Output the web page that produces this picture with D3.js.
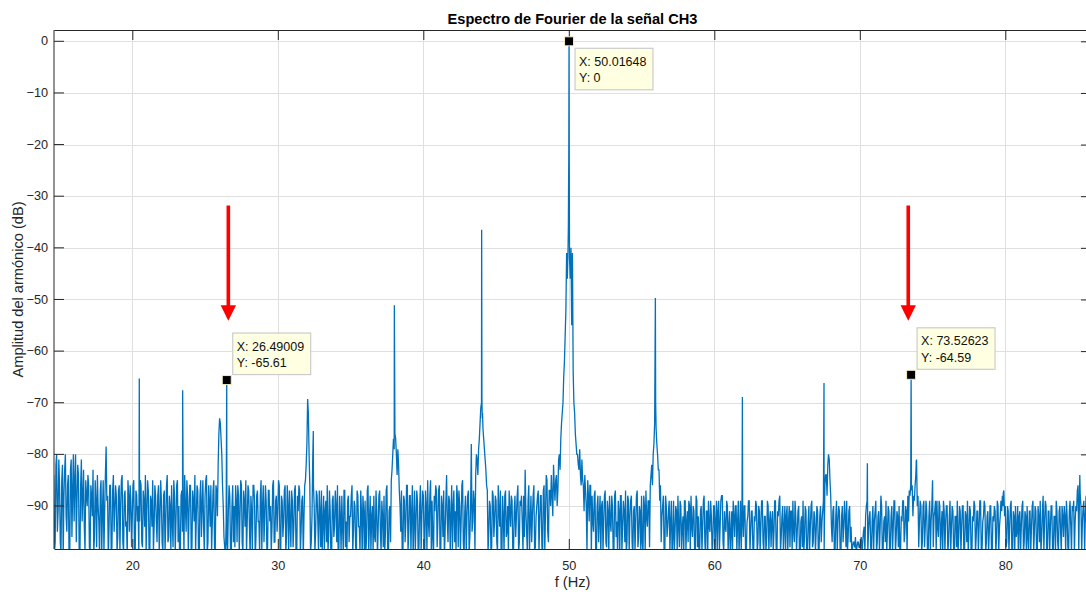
<!DOCTYPE html>
<html>
<head>
<meta charset="utf-8">
<script src="https://cdn.jsdelivr.net/npm/d3@7"></script>
<style>
  html, body { margin: 0; padding: 0; background: #fff; }
  svg { display: block; font-family: "Liberation Sans", Arial, Helvetica, sans-serif; }
</style>
</head>
<body>
<svg id="chart" width="1086" height="592"></svg>
<script>
// ---- Spectrum data (dB relative to the fundamental) ----
// Noise floor: each band holds the bins on the 0.1 Hz grid from its start frequency,
// its "Mid" partner holds the bins half a step (0.05 Hz) later.
const floorStep = 0.1;
const bandStart = [14.6, 30.0, 50.0, 70.0];

const floorBandA = [ // 14.6 – 29.9 Hz
  -84, -97, -80, -91,
  -86, -99, -82, -88, -80, -95, -84, -100, -81, -87,
  -93, -80, -89, -84, -100, -81, -88, -94, -85, -90,
  -86, -99, -88, -83, -96, -89, -84, -93, -87, -99,
  -85, -91, -78.5, -88, -94, -86, -98, -84, -91, -88,
  -96, -86, -90, -84, -99, -87, -93, -85, -95, -89,
  -92, -85, -99, -88, -90, -93, -86, -98, -89, -84,
  -91, -87, -100, -89, -85, -94, -88, -97, -86, -92,
  -89, -99, -87, -93, -84, -96, -90, -86, -98, -88,
  -93, -85, -90, -99, -87, -89, -84, -95, -88, -91,
  -86, -98, -89, -84, -92, -87, -100, -85, -90, -94,
  -88, -84, -97, -89, -86, -93, -85, -99, -87, -82,
  -73, -77, -86, -96, -100, -97, -91, -88, -100, -86,
  -90, -86, -97, -88, -92, -86, -99, -89, -85, -93,
  -87, -100, -91, -86, -89, -96, -87, -93, -88, -99,
  -86, -92, -89, -98, -87, -90, -94, -85, -97, -88
];
const floorBandAMid = [ // 14.65 – 29.95 Hz
  -99, -82, -95, -81,
  -97, -85, -100, -83, -92, -86, -99, -83, -96, -80,
  -85, -97, -82, -99, -86, -93, -83, -99, -88, -84,
  -98, -86, -92, -99, -85, -98, -90, -100, -85, -91,
  -99, -84, -89, -100, -86, -99, -87, -95, -86, -99,
  -87, -99, -85, -97, -88, -94, -100, -88, -86, -98,
  -86, -99, -87, -93, -100, -85, -97, -87, -94, -99,
  -85, -98, -88, -94, -99, -86, -93, -88, -99, -85,
  -97, -88, -99, -86, -97, -88, -99, -93, -85, -99,
  -86, -97, -100, -88, -95, -99, -90, -85, -99, -86,
  -99, -87, -93, -99, -86, -99, -88, -96, -85, -99,
  -85, -99, -86, -94, -99, -87, -98, -86, -92, -76,
  -74, -80, -90, -98, -93, -99, -86, -99, -90, -97,
  -98, -89, -86, -99, -85, -97, -87, -94, -99, -86,
  -94, -88, -99, -86, -100, -88, -93, -99, -85, -90,
  -97, -86, -99, -87, -93, -99, -86, -97, -89, -95
];

const floorBandB = [ // 30.0 – 49.9 Hz
  -91, -86, -99, -89, -93, -86, -96, -90, -87, -98,
  -89, -94, -86, -100, -91, -87, -95, -88, -92, -85,
  -78, -72, -86, -97, -81, -90, -95, -88, -99, -91,
  -87, -93, -99, -89, -86, -95, -91, -100, -88, -94,
  -90, -86, -98, -92, -88, -99, -87, -93, -89, -97,
  -92, -86, -95, -90, -99, -88, -94, -87, -100, -91,
  -89, -96, -86, -93, -99, -90, -88, -97, -91, -94,
  -87, -99, -92, -88, -95, -86, -100, -90, -85, -80,
  -79, -77, -84, -82, -90, -87, -99, -89, -93, -86,
  -95, -88, -91, -100, -87, -93, -89, -98, -86, -92,
  -88, -99, -90, -85, -96, -85, -89, -100, -91, -87,
  -93, -86, -99, -90, -87, -95, -84, -97, -89, -92,
  -99, -87, -91, -86, -98, -90, -93, -85, -100, -88,
  -92, -87, -96, -78, -93, -89, -84, -81, -79, -74,
  -70, -75, -79, -83, -87, -95, -90, -98, -88, -93,
  -89, -99, -91, -87, -100, -92, -88, -96, -90, -87,
  -94, -89, -99, -88, -92, -86, -97, -90, -93, -88,
  -83, -95, -89, -99, -88, -92, -86, -98, -90, -87,
  -93, -88, -99, -86, -91, -85, -97, -87, -84, -92,
  -86, -85, -90, -81, -83, -74, -70, -62, -52, -46
];
const floorBandBMid = [ // 30.05 – 49.95 Hz
  -85, -98, -88, -96, -87, -99, -86, -99, -93, -87,
  -98, -87, -99, -88, -86, -99, -89, -100, -86, -82,
  -69.3, -80, -99, -92, -86, -99, -87, -93, -87, -98,
  -99, -88, -91, -97, -99, -87, -100, -89, -96, -87,
  -97, -100, -88, -99, -94, -87, -98, -99, -88, -92,
  -88, -99, -89, -98, -87, -94, -99, -91, -88, -99,
  -99, -87, -99, -88, -92, -99, -96, -87, -100, -88,
  -95, -89, -98, -99, -87, -99, -91, -97, -83, -77,
  -76, -80, -79, -87, -95, -99, -88, -97, -86, -99,
  -88, -99, -86, -93, -99, -87, -100, -90, -99, -87,
  -96, -87, -99, -93, -88, -99, -96, -88, -86, -98,
  -87, -99, -88, -96, -100, -89, -93, -88, -99, -86,
  -90, -97, -99, -88, -87, -99, -86, -97, -91, -99,
  -88, -99, -90, -95, -87, -99, -80, -84, -77, -71,
  -73, -77, -81, -86, -99, -89, -99, -87, -96, -88,
  -97, -86, -94, -99, -88, -99, -87, -95, -99, -91,
  -88, -99, -91, -96, -88, -99, -89, -88, -99, -96,
  -91, -99, -86, -93, -97, -88, -99, -92, -88, -99,
  -88, -98, -87, -99, -84, -95, -87, -90, -88, -82,
  -89, -84, -87, -80, -77, -72, -65, -57, -41, -40
];

const floorBandC = [ // 50.0 – 69.9 Hz
  -22, -46, -55, -64, -72, -78, -80, -83, -84, -81,
  -86, -84, -90, -85, -93, -86, -88, -95, -87, -99,
  -88, -92, -100, -89, -93, -87, -98, -91, -88, -95,
  -90, -99, -87, -93, -89, -100, -88, -94, -91, -87,
  -97, -89, -92, -88, -100, -90, -93, -87, -96, -91,
  -88, -99, -90, -87, -94, -89, -86, -82, -80, -74,
  -75, -80, -83, -86, -92, -88, -99, -90, -94, -89,
  -93, -100, -89, -95, -91, -88, -98, -90, -94, -99,
  -89, -93, -97, -90, -88, -96, -91, -99, -89, -92,
  -98, -90, -94, -88, -100, -91, -89, -95, -92, -97,
  -90, -93, -99, -89, -94, -88, -97, -91, -95, -90,
  -94, -100, -91, -89, -96, -90, -93, -99, -89, -92,
  -96, -90, -99, -92, -89, -95, -91, -100, -93, -90,
  -97, -91, -94, -89, -99, -92, -96, -90, -93, -98,
  -91, -95, -89, -100, -92, -88, -96, -90, -94, -99,
  -90, -93, -98, -91, -89, -97, -92, -95, -90, -100,
  -92, -89, -96, -91, -99, -90, -94, -89, -97, -92,
  -95, -91, -99, -90, -93, -89, -86, -84, -82, -81,
  -88, -97, -90, -99, -89, -93, -91, -100, -90, -94,
  -92, -89, -96, -90, -94, -98, -97, -96, -98, -97
];
const floorBandCMid = [ // 50.05 – 69.95 Hz
  -42, -40, -41, -70, -76, -80, -82, -79, -86, -85,
  -91, -87, -99, -88, -86, -99, -93, -88, -99, -90,
  -97, -88, -90, -99, -88, -97, -89, -99, -93, -88,
  -99, -88, -96, -99, -91, -88, -99, -89, -97, -99,
  -88, -99, -89, -97, -91, -99, -88, -98, -90, -99,
  -97, -88, -99, -92, -89, -98, -84, -86, -78, -49.7,
  -78, -83, -89, -97, -90, -99, -88, -96, -91, -99,
  -89, -96, -99, -90, -99, -94, -89, -99, -92, -89,
  -99, -91, -89, -99, -94, -90, -99, -88, -98, -99,
  -91, -99, -89, -97, -91, -99, -94, -89, -99, -90,
  -99, -89, -91, -99, -89, -88, -99, -94, -89, -99,
  -91, -95, -99, -92, -90, -99, -89, -95, -99, -91,
  -90, -99, -93, -89, -99, -91, -98, -92, -89, -99,
  -90, -99, -89, -97, -92, -99, -89, -99, -91, -93,
  -99, -89, -98, -91, -89, -99, -92, -99, -90, -92,
  -99, -90, -91, -99, -95, -89, -99, -91, -99, -93,
  -98, -99, -90, -99, -93, -99, -90, -98, -91, -99,
  -90, -99, -92, -97, -91, -99, -84, -88, -80, -85,
  -94, -91, -99, -92, -99, -90, -99, -92, -97, -89,
  -98, -99, -91, -97, -99, -97, -98, -99, -97, -98
];

const floorBandD = [ // 70.0 – 85.9 Hz
  -98, -96, -97, -94, -92, -89, -95, -91, -99, -90,
  -93, -89, -97, -91, -94, -90, -99, -92, -89, -95,
  -91, -98, -90, -94, -89, -96, -92, -90, -99, -93,
  -89, -95, -91, -88, -87, -86, -86, -88, -86, -81,
  -88, -93, -90, -97, -89, -94, -91, -99, -89, -93,
  -85, -92, -89, -89, -96, -90, -94, -99, -91, -93,
  -90, -97, -89, -94, -91, -99, -92, -89, -96, -91,
  -94, -90, -99, -92, -89, -95, -91, -100, -93, -90,
  -96, -91, -94, -89, -99, -92, -90, -97, -91, -95,
  -90, -99, -93, -91, -96, -90, -94, -89, -88, -87,
  -90, -97, -91, -94, -89, -99, -92, -90, -95, -100,
  -91, -94, -89, -97, -92, -90, -99, -91, -94, -89,
  -95, -91, -99, -92, -89, -96, -88, -93, -90, -98,
  -91, -94, -90, -99, -92, -89, -97, -91, -95, -90,
  -96, -92, -89, -98, -91, -94, -90, -89, -93, -91,
  -86, -88, -90, -93, -89, -92, -95, -90, -97, -91
];
const floorBandDMid = [ // 70.05 – 85.95 Hz
  -97, -99, -95, -99, -90, -99, -92, -98, -93, -99,
  -91, -99, -92, -99, -88, -99, -93, -97, -99, -90,
  -99, -92, -99, -89, -99, -91, -98, -99, -92, -89,
  -97, -90, -99, -93, -88, -87, -92, -89, -84, -90,
  -98, -89, -99, -90, -98, -89, -99, -92, -99, -90,
  -98, -91, -99, -94, -89, -99, -91, -89, -99, -90,
  -99, -92, -99, -90, -99, -92, -98, -99, -90, -99,
  -90, -99, -91, -97, -99, -90, -99, -92, -89, -99,
  -91, -99, -89, -99, -93, -89, -99, -92, -99, -90,
  -99, -92, -90, -99, -89, -99, -92, -91, -90, -92,
  -98, -90, -99, -90, -99, -91, -99, -96, -90, -92,
  -99, -90, -99, -91, -99, -96, -91, -99, -90, -99,
  -90, -99, -90, -97, -99, -91, -99, -89, -99, -91,
  -99, -90, -99, -92, -99, -91, -99, -90, -99, -92,
  -90, -99, -92, -99, -89, -99, -91, -99, -90, -87,
  -99, -88, -99, -90, -99, -88, -99, -92, -89, -99
];

// Narrow spectral lines that fall between the grid bins
const lineFreq = [20.48, 23.46, 32.44, 38.01, 44.01, 44.03, 44.07, 49.97, 49.985,
  50.03, 50.04, 55.97, 61.93, 67.54, 70.52, 73.88, 79.86, 85.12];
const lineDb = [-65.3, -67.6, -75.5, -51.1, -36.5, -69, -72, -36, -28,
  -24, -33, -70, -68.9, -66.2, -81.7, -81.3, -87.5, -84];

// Data tips
const tipFreq = [26.49009, 50.01648, 73.52623];
const tipDb = [-65.61, 0, -64.59];
const tipSide = ["above", "below", "above"];

// Axis ticks
const xTicks = [20, 30, 40, 50, 60, 70, 80];
const yTicks = [0, -10, -20, -30, -40, -50, -60, -70, -80, -90];

// Red arrow annotations (frequency, top dB, tip dB)
const arrowFreq = [26.6, 73.33];
const arrowTopDb = -31.8;
const arrowTipDb = -54.1;

// ---- Build the trace ----
const bands = [floorBandA, floorBandB, floorBandC, floorBandD];
const midBands = [floorBandAMid, floorBandBMid, floorBandCMid, floorBandDMid];
const trace = [];
bands.forEach((vals, b) => {
  vals.forEach((v, i) => trace.push([+(bandStart[b] + i * floorStep).toFixed(3), v]));
  midBands[b].forEach((v, i) => trace.push([+(bandStart[b] + i * floorStep + floorStep / 2).toFixed(3), v]));
});
lineFreq.forEach((f, i) => trace.push([f, lineDb[i]]));
tipFreq.forEach((f, i) => trace.push([f, tipDb[i]]));
trace.sort((a, b) => a[0] - b[0]);

// ---- Layout ----
const plot = { left: 54, right: 1091, top: 30, bottom: 549 };
const x = d3.scaleLinear().domain([14.618, 85.89]).range([plot.left, plot.right]);
const y = d3.scaleLinear().domain([-98.33, 2.19]).range([plot.bottom, plot.top]);
const axisColor = "#262626";

const svg = d3.select("#chart");

svg.append("defs").append("clipPath").attr("id", "plotClip")
  .append("rect")
  .attr("x", plot.left).attr("y", plot.top)
  .attr("width", plot.right - plot.left).attr("height", plot.bottom - plot.top);

// Grid
const grid = svg.append("g").attr("stroke", "#dfdfdf").attr("stroke-width", 1);
grid.selectAll(".gx").data(xTicks).join("line")
  .attr("x1", d => Math.round(x(d)) + 0.5).attr("x2", d => Math.round(x(d)) + 0.5)
  .attr("y1", plot.top).attr("y2", plot.bottom);
grid.selectAll(".gy").data(yTicks).join("line")
  .attr("y1", d => Math.round(y(d)) + 0.5).attr("y2", d => Math.round(y(d)) + 0.5)
  .attr("x1", plot.left).attr("x2", plot.right);

// Spectrum line
svg.append("path")
  .datum(trace)
  .attr("clip-path", "url(#plotClip)")
  .attr("fill", "none")
  .attr("stroke", "#0072bd")
  .attr("stroke-width", 1.3)
  .attr("stroke-linejoin", "miter")
  .attr("stroke-miterlimit", 2)
  .attr("d", d3.line().x(d => x(d[0])).y(d => y(d[1])));

// Axes (ticks pointing inward, box on)
function styleAxis(g) {
  g.selectAll(".domain").attr("stroke", axisColor);
  g.selectAll(".tick line").attr("stroke", axisColor);
  g.selectAll(".tick text").attr("fill", axisColor).style("font-size", "12.7px")
    .style("font-family", '"Liberation Sans", Arial, sans-serif');
}
svg.append("g").attr("transform", `translate(0,${plot.bottom})`)
  .call(d3.axisBottom(x).tickValues(xTicks).tickSize(-10).tickSizeOuter(0).tickPadding(12))
  .call(styleAxis);
svg.append("g").attr("transform", `translate(0,${plot.top})`)
  .call(d3.axisTop(x).tickValues(xTicks).tickSize(-10).tickSizeOuter(0).tickFormat(""))
  .call(styleAxis);
svg.append("g").attr("transform", `translate(${plot.left},0)`)
  .call(d3.axisLeft(y).tickValues(yTicks).tickSize(-10).tickSizeOuter(0).tickPadding(6).offset(0))
  .call(styleAxis);
svg.append("g").attr("transform", `translate(${plot.right},0)`)
  .call(d3.axisRight(y).tickValues(yTicks).tickSize(-10).tickSizeOuter(0).tickFormat(""))
  .call(styleAxis);

// Red arrows
const arrows = svg.append("g").attr("fill", "#ff0000");
arrowFreq.forEach(f => {
  const ax = x(f), y0 = y(arrowTopDb), y1 = y(arrowTipDb);
  const headLen = 15.5, headHalf = 7.7, shaftHalf = 1.8;
  arrows.append("rect")
    .attr("x", ax - shaftHalf).attr("y", y0)
    .attr("width", shaftHalf * 2).attr("height", (y1 - headLen) - y0 + 1);
  arrows.append("polygon")
    .attr("points", `${ax - headHalf},${y1 - headLen} ${ax + headHalf},${y1 - headLen} ${ax},${y1}`);
});

// Data tips
const tips = svg.append("g");
tipFreq.forEach((f, i) => {
  const mx = x(f), my = y(tipDb[i]);
  const left = mx + 6;
  const top = tipSide[i] === "above" ? my - 47 : my + 7;
  const g = tips.append("g");
  const box = g.append("rect")
    .attr("x", left).attr("y", top).attr("height", 41.5)
    .attr("fill", "#ffffe1").attr("stroke", "#cccccc").attr("stroke-width", 1.2);
  const t1 = g.append("text").attr("x", left + 4).attr("y", top + 17.5)
    .style("font-size", "12.5px").attr("fill", "#111").text(`X: ${f}`);
  const t2 = g.append("text").attr("x", left + 4).attr("y", top + 34)
    .style("font-size", "12.5px").attr("fill", "#111").text(`Y: ${tipDb[i]}`);
  const w = Math.max(t1.node().getComputedTextLength(), t2.node().getComputedTextLength());
  box.attr("width", w + 10.5);
  g.append("rect")
    .attr("x", mx - 4.5).attr("y", my - 4.5).attr("width", 9).attr("height", 9)
    .attr("fill", "#000").attr("stroke", "#f4efc6").attr("stroke-width", 1);
});

// Title and axis labels
svg.append("text")
  .attr("x", (plot.left + plot.right) / 2).attr("y", 24)
  .attr("text-anchor", "middle")
  .style("font-size", "14.6px").style("font-weight", "bold").attr("fill", "#000")
  .text("Espectro de Fourier de la señal CH3");

svg.append("text")
  .attr("x", (plot.left + plot.right) / 2).attr("y", 586.5)
  .attr("text-anchor", "middle")
  .style("font-size", "14.6px").attr("fill", axisColor)
  .text("f (Hz)");

svg.append("text")
  .attr("transform", `translate(23,${(plot.top + plot.bottom) / 2}) rotate(-90)`)
  .attr("text-anchor", "middle")
  .style("font-size", "14.6px").attr("fill", axisColor)
  .text("Amplitud del armónico (dB)");
</script>
</body>
</html>
